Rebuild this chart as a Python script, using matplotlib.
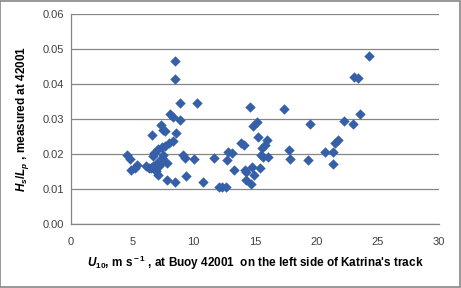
"""
Wave steepness Hs/Lp vs U10 at buoy 42001 (Katrina, left side of track).
"""
import matplotlib
matplotlib.use("Agg")
import matplotlib.pyplot as plt
from matplotlib.patches import Rectangle

plt.rcParams["font.family"] = ["Liberation Sans", "DejaVu Sans"]
plt.rcParams["mathtext.fontset"] = "custom"
plt.rcParams["mathtext.it"] = "Liberation Sans:italic:bold"
plt.rcParams["mathtext.rm"] = "Liberation Sans:bold"
plt.rcParams["mathtext.bf"] = "Liberation Sans:bold"

# wind speed U10 (m/s) and measured steepness Hs/Lp
u10 = [
    4.6, 4.8, 4.9, 5.2, 5.4, 6.1, 6.4, 6.55, 6.6, 6.65,
    6.7, 6.8, 6.9, 7.0, 7.1, 7.1, 7.2, 7.3, 7.4, 7.45,
    7.5, 7.5, 7.5, 7.7, 7.7, 7.8, 7.85, 8.0, 8.1, 8.3,
    8.3, 8.45, 8.5, 8.5, 8.6, 8.9, 8.9, 9.1, 9.3, 9.35,
    10.0, 10.25, 10.8, 11.7, 12.05, 12.3, 12.6, 12.7, 12.8, 13.15,
    13.3, 13.9, 14.1, 14.15, 14.3, 14.3, 14.6, 14.7, 14.8, 14.95,
    14.85, 15.2, 15.25, 15.4, 15.5, 15.55, 15.65, 15.8, 16.0, 16.05,
    17.35, 17.8, 17.9, 19.3, 19.5, 20.75, 21.4, 21.4, 21.5, 21.75,
    22.3, 23.0, 23.1, 23.4, 23.6, 24.3,
]
hs_lp = [
    0.0198, 0.0186, 0.0155, 0.0160, 0.0170, 0.0166, 0.0160, 0.0160, 0.0255, 0.0195,
    0.0166, 0.0203, 0.0153, 0.0174, 0.0214, 0.0141, 0.0165, 0.0284, 0.0220, 0.0189,
    0.0198, 0.0179, 0.0269, 0.0265, 0.0224, 0.0174, 0.0125, 0.0231, 0.0315, 0.0306,
    0.0236, 0.0119, 0.0467, 0.0414, 0.0260, 0.0347, 0.0296, 0.0198, 0.0189, 0.0136,
    0.0187, 0.0347, 0.0121, 0.0189, 0.0106, 0.0106, 0.0106, 0.0184, 0.0207, 0.0203,
    0.0155, 0.0231, 0.0227, 0.0155, 0.0150, 0.0127, 0.0334, 0.0115, 0.0163, 0.0141,
    0.0279, 0.0293, 0.0250, 0.0160, 0.0198, 0.0217, 0.0193, 0.0227, 0.0239, 0.0191,
    0.0329, 0.0212, 0.0187, 0.0183, 0.0287, 0.0207, 0.0207, 0.0171, 0.0231, 0.0239,
    0.0295, 0.0285, 0.0419, 0.0416, 0.0314, 0.0479,
]

x_ticks = [0, 5, 10, 15, 20, 25, 30]
y_ticks = [0.00, 0.01, 0.02, 0.03, 0.04, 0.05, 0.06]

fig = plt.figure(figsize=(4.61, 2.88), dpi=100)
ax = fig.add_axes([0.154, 0.222, 0.798, 0.729])

ax.scatter(u10, hs_lp, marker="D", s=28, color="#3560A8", zorder=3, linewidths=0)

ax.set_xlim(0, 30)
ax.set_ylim(0, 0.06)
ax.set_xticks(x_ticks)
ax.set_yticks(y_ticks)
ax.set_yticklabels([f"{v:.2f}" for v in y_ticks])
ax.tick_params(length=0, labelsize=8, colors="#404040", pad=5)
ax.tick_params(axis="x", pad=9)

ax.grid(axis="y", color="#868686", lw=0.9)
ax.set_axisbelow(True)
for side in ("top", "right"):
    ax.spines[side].set_visible(False)
for side in ("left", "bottom"):
    ax.spines[side].set_color("#868686")
    ax.spines[side].set_linewidth(0.9)

ax.set_xlabel(r"$\it{U}_{\it{10}}$, m s$^{\rm -1}$ , at Buoy 42001  on the left side of Katrina's track",
              fontsize=8.5, fontweight="bold", labelpad=5)
ax.set_ylabel(r"$\it{H}_{\it{s}}$/$\it{L}_{\it{p}}$ , measured at 42001",
              fontsize=8.5, fontweight="bold", labelpad=8)

# chart-area border
fig.patches.append(Rectangle((0.001, 0.002), 0.997, 0.995, transform=fig.transFigure,
                             fill=False, edgecolor="#868686", lw=1.2))

fig.savefig("out.png", dpi=100)
